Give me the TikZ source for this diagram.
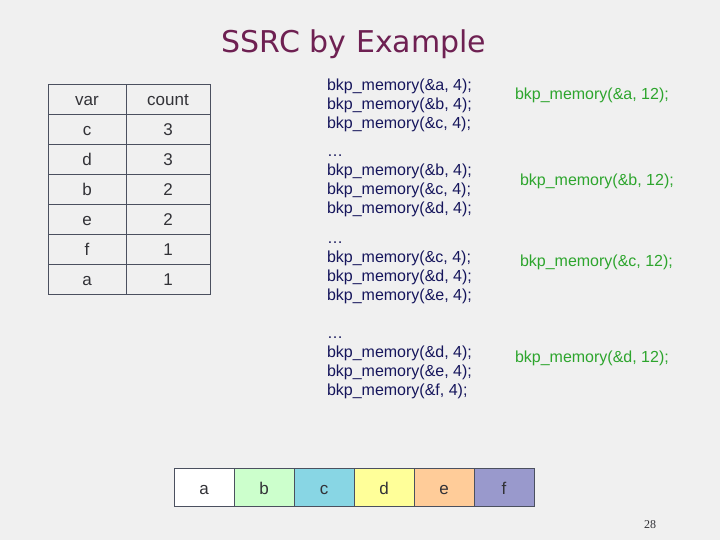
\documentclass[tikz,border=0pt]{standalone}
\usepackage{fontspec}
\setmainfont{Liberation Sans}
\newfontfamily\titlefont{DejaVu Sans}
\newfontfamily\numfont{Liberation Serif}
\usepackage{xcolor}
\usetikzlibrary{positioning}

\definecolor{slidebg}{RGB}{240,240,240}
\definecolor{titlecol}{RGB}{110,32,82}
\definecolor{codecol}{RGB}{22,22,92}
\definecolor{bkpgreen}{RGB}{45,165,45}
\definecolor{gridcol}{RGB}{75,80,95}
\definecolor{cellink}{RGB}{50,50,55}
\definecolor{memb}{RGB}{204,255,204}
\definecolor{memc}{RGB}{136,214,228}
\definecolor{memd}{RGB}{255,255,153}
\definecolor{meme}{RGB}{255,204,153}
\definecolor{memf}{RGB}{153,153,204}

\begin{document}
\begin{tikzpicture}[x=1pt, y=-1pt, every node/.style={inner sep=0pt, outer sep=0pt}, tcell/.style={draw=gridcol, line width=0.8pt, minimum height=30pt, text height=13pt, text depth=0pt, font=\fontsize{17}{20}\selectfont, text=cellink}, code/.style={anchor=base west, align=left, text=codecol, font=\fontsize{16}{19}\selectfont}, merged/.style={anchor=base west, text=bkpgreen, font=\fontsize{16}{19}\selectfont}, memcell/.style={draw=gridcol, line width=0.8pt, minimum width=60pt, minimum height=38pt, text height=14pt, text depth=0pt, font=\fontsize{17}{20}\selectfont, text=cellink}]
\fill[slidebg] (0,0) rectangle (720,540);
\useasboundingbox (0,0) rectangle (720,540);
\node[anchor=base, font=\titlefont\fontsize{30}{36}\selectfont, text=titlecol] (title) at (354,53) {SSRC by Example};
% variable / access count table
\foreach \v/\c [count=\i from 0] in {var/count, c/3, d/3, b/2, e/2, f/1, a/1} {
  \node[tcell, minimum width=78pt] (var\i) at (87,99+30*\i) {\v};
  \node[tcell, minimum width=84pt] (cnt\i) at (168,99+30*\i) {\c};
}
% original calls (base = last line)
\node[code] (calls1) at (327,129) {bkp\_memory(\&a, 4);\\bkp\_memory(\&b, 4);\\bkp\_memory(\&c, 4);};
\node[code] (calls2) at (327,214) {…\\bkp\_memory(\&b, 4);\\bkp\_memory(\&c, 4);\\bkp\_memory(\&d, 4);};
\node[code] (calls3) at (327,300) {…\\bkp\_memory(\&c, 4);\\bkp\_memory(\&d, 4);\\bkp\_memory(\&e, 4);};
\node[code] (calls4) at (327,395) {…\\bkp\_memory(\&d, 4);\\bkp\_memory(\&e, 4);\\bkp\_memory(\&f, 4);};
% merged calls
\node[merged] (merge1) at (515,100) {bkp\_memory(\&a, 12);};
\node[merged] (merge2) at (520,186) {bkp\_memory(\&b, 12);};
\node[merged] (merge3) at (520,266) {bkp\_memory(\&c, 12);};
\node[merged] (merge4) at (515,362) {bkp\_memory(\&d, 12);};
% memory layout
\node[memcell, fill=white, anchor=north west] (mema) at (174,468) {a};
\node[memcell, fill=memb, right=0pt of mema] (memb) {b};
\node[memcell, fill=memc, right=0pt of memb] (memc) {c};
\node[memcell, fill=memd, right=0pt of memc] (memd) {d};
\node[memcell, fill=meme, right=0pt of memd] (meme) {e};
\node[memcell, fill=memf, right=0pt of meme] (memf) {f};
\node[font=\numfont\fontsize{12}{14}\selectfont, text=cellink] (pageno) at (650,525) {28};
\end{tikzpicture}
\end{document}
